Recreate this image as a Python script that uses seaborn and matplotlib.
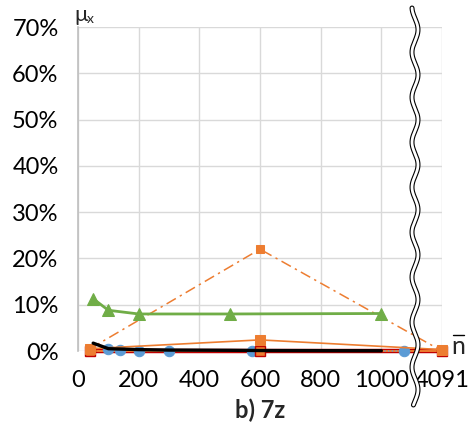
import numpy as np
import seaborn as sns
from matplotlib import pyplot as plt
from matplotlib.lines import Line2D

# series values (fractions of 1)
blue_x = [100, 140, 200, 300, 575, 1075]
blue_y = [0.004, 0.003, 0.001, 0.001, 0.0, 0.0]

green_x = [50, 100, 200, 500, 1000]
green_y = [0.113, 0.088, 0.080, 0.080, 0.081]

dashdot_x = [40, 600, 4091]
dashdot_y = [0.005, 0.220, 0.0]

orange_x = [40, 600, 4091]
orange_y = [0.005, 0.024, 0.003]

red_x = [40, 600, 4091]
red_y = [0.0, 0.0, 0.0]

black_x = [50, 100, 200, 300, 500, 600, 1000]
black_y = [0.017, 0.005, 0.003, 0.002, 0.0015, 0.001, 0.0005]

x_ticks = [0, 200, 400, 600, 800, 1000, 4091]
x_labels = ['0', '200', '400', '600', '800', '1000', '4091']
y_ticks = [0, .1, .2, .3, .4, .5, .6, .7]
y_labels = ['0%', '10%', '20%', '30%', '40%', '50%', '60%', '70%']

BREAK = 1110
SPAN = 90


def fwd(x):
    x = np.asarray(x, dtype=float)
    return np.where(x <= BREAK, x, BREAK + (x - BREAK) * SPAN / (4091 - BREAK))


def inv(x):
    x = np.asarray(x, dtype=float)
    return np.where(x <= BREAK, x, BREAK + (x - BREAK) * (4091 - BREAK) / SPAN)


sns.set_style('white')
plt.rcParams['font.family'] = ['Lato', 'DejaVu Sans']

fig = plt.figure(figsize=(4.71, 4.46), dpi=100)
ax = fig.add_axes([78 / 471, 95 / 446, 364 / 471, 324 / 446])
ax.set_xscale('function', functions=(fwd, inv))

blue, orange, green, red = '#5B9BD5', '#ED7D31', '#70AD47', '#C00000'

# red-edged series: line first, markers later
sns.lineplot(x=red_x, y=red_y, ax=ax, color=red, lw=3.2, zorder=3,
             clip_on=False)
sns.lineplot(x=red_x, y=red_y, ax=ax, color=orange, lw=1.4, zorder=3.1,
             clip_on=False)
sns.lineplot(x=blue_x, y=blue_y, ax=ax, color=blue, lw=1, linestyle=':',
             marker='o', markersize=7.5, markeredgecolor=blue, zorder=4,
             clip_on=False)
sns.lineplot(x=red_x, y=red_y, ax=ax, color=red, linestyle='', marker='s',
             markersize=7.5, markerfacecolor=orange, markeredgecolor=red,
             markeredgewidth=1, zorder=4.5, clip_on=False)
sns.lineplot(x=dashdot_x, y=dashdot_y, ax=ax, color=orange, lw=1.1,
             linestyle=(0, (7, 3, 1.5, 3)), marker='s', markersize=6,
             markeredgecolor=orange, zorder=5, clip_on=False)
sns.lineplot(x=orange_x, y=orange_y, ax=ax, color=orange, lw=1.2,
             marker='s', markersize=6.5, markeredgecolor=orange, zorder=5,
             clip_on=False)
sns.lineplot(x=green_x, y=green_y, ax=ax, color=green, lw=2, marker='^',
             markersize=9, markeredgecolor=green, zorder=5, clip_on=False)
sns.lineplot(x=black_x, y=black_y, ax=ax, color='black', lw=2.4, zorder=6,
             clip_on=False)

ax.set_xlim(0, 4091)
ax.set_ylim(0, 0.7)
ax.set_xticks(x_ticks, x_labels)
ax.set_yticks(y_ticks, y_labels)
ax.tick_params(length=0, labelsize=17, labelcolor='black')
ax.tick_params(axis='y', pad=14)
ax.tick_params(axis='x', pad=14)
ax.grid(True, color='#D9D9D9', lw=1)
for s in ['top', 'right', 'bottom']:
    ax.spines[s].set_visible(False)
ax.spines['left'].set_color('#BFBFBF')
ax.spines['left'].set_linewidth(1.2)

# axis break mark
yy = np.linspace(1 - 8 / 446, 1 - 405 / 446, 400)
xx = 415 / 471 + 3 / 471 * np.sin((yy * 446) * 2 * np.pi / 45)
fig.add_artist(Line2D(xx, yy, color='black', lw=3.6, zorder=10))
fig.add_artist(Line2D(xx, yy, color='white', lw=2.0, zorder=11))

fig.text(74 / 471, 1 - 15 / 446, 'μ', fontsize=16, va='center')
fig.text(87 / 471, 1 - 19 / 446, 'x', fontsize=10, va='center')
fig.text(451 / 471, 1 - 347 / 446, 'n', fontsize=18, va='center')
fig.add_artist(Line2D([453 / 471, 464 / 471], [1 - 335 / 446] * 2,
                      color='black', lw=1))
fig.text(260 / 471, 1 - 410 / 446, 'b) 7z', fontsize=17, fontweight='bold',
         ha='center', va='center')

fig.savefig('out.png', dpi=100)
